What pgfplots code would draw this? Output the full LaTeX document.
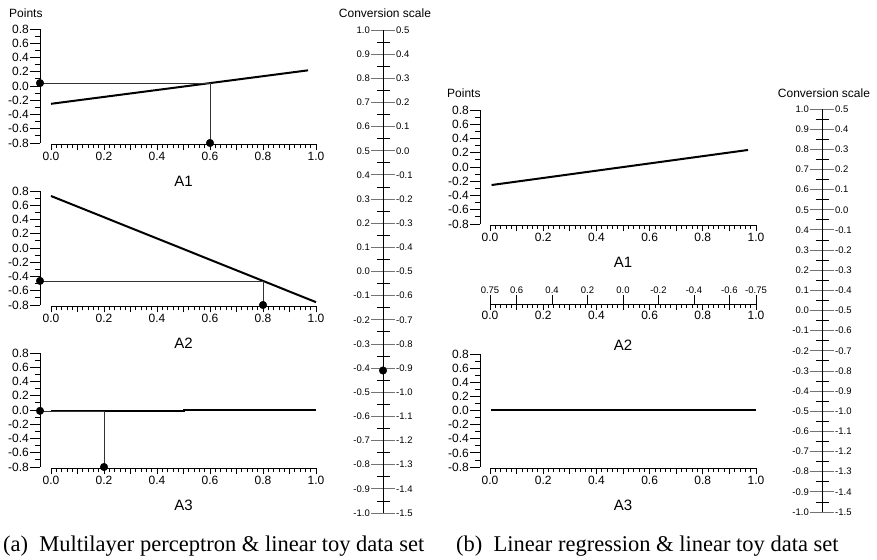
\documentclass[border=0pt]{standalone}
\usepackage{fontspec}
\setmainfont{Liberation Sans}
\newfontfamily\capfont{Liberation Serif}
\usepackage{pgfplots}
\pgfplotsset{compat=1.18}
\pgfplotsset{
  base/.style={scale only axis, clip=false, anchor=south west,
    xmin=0, xmax=1, ymin=-0.8, ymax=0.8,
    axis line style={line width=0.9pt,-},
    tick style={line width=0.8pt, black}, tick align=outside},
  yside/.style={base, hide x axis, axis y line*=left, axis y line shift=#1,
    ytick={-0.8,-0.6,-0.4,-0.2,0,0.2,0.4,0.6,0.8},
    yticklabels={-0.8,-0.6,-0.4,-0.2,0.0,0.2,0.4,0.6,0.8},
    minor y tick num=1, major tick length=10pt, minor tick length=5pt,
    yticklabel style={font=\fontsize{12}{13}\selectfont, inner sep=1pt}},
  xside/.style={base, hide y axis, axis x line*=bottom, axis x line shift=1.5pt,
    xtick={0,0.1,0.2,0.3,0.4,0.5,0.6,0.7,0.8,0.9,1},
    xticklabels={0.0,{},0.2,{},0.4,{},0.6,{},0.8,{},1.0},
    minor x tick num=4, major tick length=6pt, minor tick length=4pt,
    xticklabel style={font=\fontsize{12}{13}\selectfont, inner sep=1pt},
    xlabel style={at={(rel axis cs:0.5,0)}, anchor=center, yshift=-38pt,
      font=\fontsize{15}{18}\selectfont}},
  conv/.style={scale only axis, clip=false, anchor=south west, width=1pt,
    xmin=0, xmax=1, hide x axis, tick align=center},
  dataline/.style={black, line width=2pt},
  guide/.style={black!80, line width=0.8pt},
  dot/.style={only marks, mark=*, mark size=3.8pt, black},
}
\begin{document}
\begin{tikzpicture}[x=1pt,y=1pt]
\useasboundingbox (0,0) rectangle (877,559);
% ---------------- (a) ----------------
\node[anchor=west, inner sep=0, font=\fontsize{12}{14}\selectfont] at (9,546) {Points};
% A1
\begin{axis}[yside=11pt, at={(51pt,416pt)}, width=265pt, height=114pt]
\end{axis}
\begin{axis}[xside, at={(51pt,416pt)}, width=265pt, height=114pt, xlabel={A1}]
\addplot[dataline] coordinates {(0.0,-0.25) (0.97,0.22)};
\addplot[guide] coordinates {(-0.0415,0.041) (0.6,0.041) (0.6,-0.8)};
\addplot[dot] coordinates {(-0.0415,0.041) (0.6,-0.8)};
\end{axis}
% A2
\begin{axis}[yside=11pt, at={(51pt,254pt)}, width=265pt, height=114pt]
\end{axis}
\begin{axis}[xside, at={(51pt,254pt)}, width=265pt, height=114pt, xlabel={A2}]
\addplot[dataline] coordinates {(0.0,0.73) (1.0,-0.76)};
\addplot[guide] coordinates {(-0.0415,-0.462) (0.8,-0.462) (0.8,-0.8)};
\addplot[dot] coordinates {(-0.0415,-0.462) (0.8,-0.8)};
\end{axis}
% A3
\begin{axis}[yside=11pt, at={(51pt,92pt)}, width=265pt, height=114pt]
\end{axis}
\begin{axis}[xside, at={(51pt,92pt)}, width=265pt, height=114pt, xlabel={A3}]
\addplot[dataline] coordinates {(0.0,-0.015) (0.5,-0.015) (0.5,0.0) (1.0,0.0)};
\addplot[guide] coordinates {(-0.0415,-0.015) (0.2,-0.015) (0.2,-0.8)};
\addplot[dot] coordinates {(-0.0415,-0.012) (0.2,-0.8)};
\end{axis}
% conversion scale (a)
\node[inner sep=0, font=\fontsize{12}{14}\selectfont] at (385,546) {Conversion scale};
\begin{axis}[conv, at={(383pt,46pt)}, height=483pt, axis y line*=left,
  ymin=-1, ymax=1,
  ytick={-1,-0.9,-0.8,-0.7,-0.6,-0.5,-0.4,-0.3,-0.2,-0.1,0,0.1,0.2,0.3,0.4,0.5,0.6,0.7,0.8,0.9,1},
  yticklabels={-1.0,-0.9,-0.8,-0.7,-0.6,-0.5,-0.4,-0.3,-0.2,-0.1,0.0,0.1,0.2,0.3,0.4,0.5,0.6,0.7,0.8,0.9,1.0},
  minor y tick num=1, major tick length=24pt, minor tick length=13pt,
  axis line style={line width=0.9pt},
  major tick style={black!55, line width=0.8pt},
  minor tick style={black, line width=0.8pt},
  yticklabel style={font=\fontsize{9.5}{10}\selectfont, inner sep=1pt}]
\addplot[dot] coordinates {(0,-0.41)};
\end{axis}
\begin{axis}[conv, at={(382pt,46pt)}, height=483pt, axis y line*=right,
  ymin=-1.5, ymax=0.5,
  ytick={-1.5,-1.4,-1.3,-1.2,-1.1,-1,-0.9,-0.8,-0.7,-0.6,-0.5,-0.4,-0.3,-0.2,-0.1,0,0.1,0.2,0.3,0.4,0.5},
  yticklabels={-1.5,-1.4,-1.3,-1.2,-1.1,-1.0,-0.9,-0.8,-0.7,-0.6,-0.5,-0.4,-0.3,-0.2,-0.1,0.0,0.1,0.2,0.3,0.4,0.5},
  major tick length=24pt, axis line style={draw=none}, tick style={draw=none},
  yticklabel style={font=\fontsize{9.5}{10}\selectfont, inner sep=1pt}]
\end{axis}
\node[anchor=base west, inner sep=0, font=\capfont\fontsize{22.5}{26}\selectfont] at (3,8) {(a)\hspace{0.5em}Multilayer perceptron \& linear toy data set};
% ---------------- (b) ----------------
\node[anchor=west, inner sep=0, font=\fontsize{12}{14}\selectfont] at (447,466) {Points};
% A1
\begin{axis}[yside=10pt, at={(490pt,335pt)}, width=266pt, height=114pt]
\end{axis}
\begin{axis}[xside, at={(490pt,335pt)}, width=266pt, height=114pt, xlabel={A1}]
\addplot[dataline] coordinates {(0.006,-0.253) (0.97,0.239)};
\end{axis}
% A2 double scale
\begin{axis}[base, at={(490pt,245pt)}, width=266pt, height=10pt, ymin=0, ymax=1,
  hide y axis, axis x line*=top,
  xtick={0,0.1,0.23333,0.36667,0.5,0.63333,0.76667,0.9,1},
  xticklabels={0.75,0.6,0.4,0.2,0.0,-0.2,-0.4,-0.6,-0.75},
  major tick length=9pt,
  xticklabel style={font=\fontsize{9.5}{10}\selectfont, inner sep=1pt}]
\end{axis}
\begin{axis}[xside, at={(490pt,255pt)}, width=266pt, height=10pt, ymin=0, ymax=1,
  axis x line shift=0pt, xlabel={A2}, xlabel style={yshift=-3pt}]
\end{axis}
% A3
\begin{axis}[yside=10pt, at={(490pt,92pt)}, width=266pt, height=113pt]
\end{axis}
\begin{axis}[xside, at={(490pt,92pt)}, width=266pt, height=113pt, xlabel={A3}]
\addplot[dataline] coordinates {(0.005,0.003) (1.0,0.003)};
\end{axis}
% conversion scale (b)
\node[inner sep=0, font=\fontsize{12}{14}\selectfont] at (824,466) {Conversion scale};
\begin{axis}[conv, at={(822pt,47pt)}, height=403pt, axis y line*=left,
  ymin=-1, ymax=1,
  ytick={-1,-0.9,-0.8,-0.7,-0.6,-0.5,-0.4,-0.3,-0.2,-0.1,0,0.1,0.2,0.3,0.4,0.5,0.6,0.7,0.8,0.9,1},
  yticklabels={-1.0,-0.9,-0.8,-0.7,-0.6,-0.5,-0.4,-0.3,-0.2,-0.1,0.0,0.1,0.2,0.3,0.4,0.5,0.6,0.7,0.8,0.9,1.0},
  minor y tick num=1, major tick length=24pt, minor tick length=13pt,
  axis line style={line width=0.9pt},
  major tick style={black!55, line width=0.8pt},
  minor tick style={black, line width=0.8pt},
  yticklabel style={font=\fontsize{9.5}{10}\selectfont, inner sep=1pt}]
\end{axis}
\begin{axis}[conv, at={(821pt,47pt)}, height=403pt, axis y line*=right,
  ymin=-1.5, ymax=0.5,
  ytick={-1.5,-1.4,-1.3,-1.2,-1.1,-1,-0.9,-0.8,-0.7,-0.6,-0.5,-0.4,-0.3,-0.2,-0.1,0,0.1,0.2,0.3,0.4,0.5},
  yticklabels={-1.5,-1.4,-1.3,-1.2,-1.1,-1.0,-0.9,-0.8,-0.7,-0.6,-0.5,-0.4,-0.3,-0.2,-0.1,0.0,0.1,0.2,0.3,0.4,0.5},
  major tick length=24pt, axis line style={draw=none}, tick style={draw=none},
  yticklabel style={font=\fontsize{9.5}{10}\selectfont, inner sep=1pt}]
\end{axis}
\node[anchor=base west, inner sep=0, font=\capfont\fontsize{22.5}{26}\selectfont] at (456,8) {(b)\hspace{0.5em}Linear regression \& linear toy data set};
\end{tikzpicture}
\end{document}
